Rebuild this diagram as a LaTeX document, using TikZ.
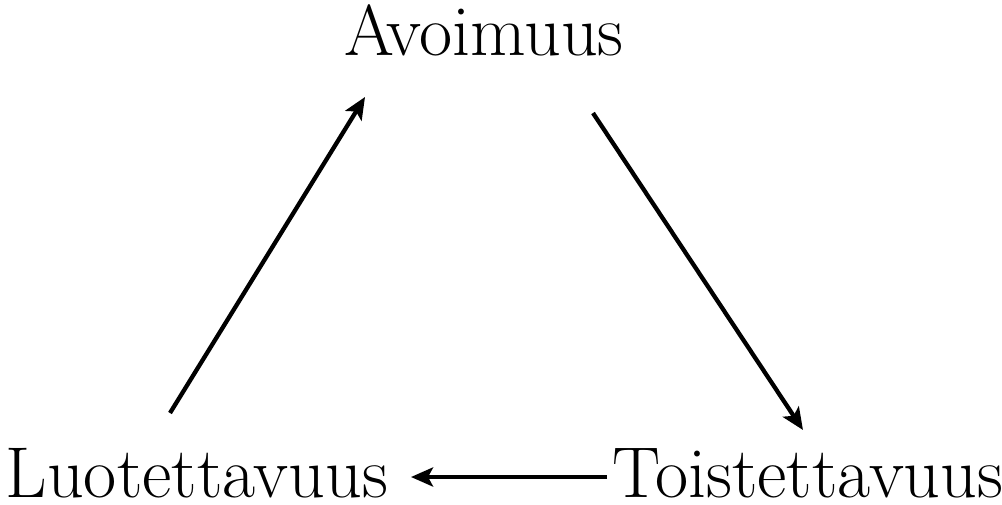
\documentclass[tikz,border=0pt]{standalone}
\usetikzlibrary{arrows.meta}
\begin{document}
\begin{tikzpicture}[x=1pt,y=-1pt,
  lbl/.style={inner sep=0pt,anchor=base,font=\fontsize{72}{84}\selectfont},
  conn/.style={line width=4.3pt,-{Stealth[length=22pt,width=19pt,inset=5pt]}}]
\useasboundingbox (0,0) rectangle (1002,504);
\node[lbl] (A) at (484,55) {Avoimuus};
\node[lbl] (L) at (197,497) {Luotettavuus};
\node[lbl] (T) at (808,497) {Toistettavuus};
\coordinate (l1) at (170,413);
\coordinate (l2) at (365,97);
\coordinate (r1) at (593,113);
\coordinate (r2) at (803,430);
\coordinate (b1) at (607,477);
\coordinate (b2) at (411,477);
\draw[conn] (l1) -- (l2);
\draw[conn] (r1) -- (r2);
\draw[conn] (b1) -- (b2);
\end{tikzpicture}
\end{document}
